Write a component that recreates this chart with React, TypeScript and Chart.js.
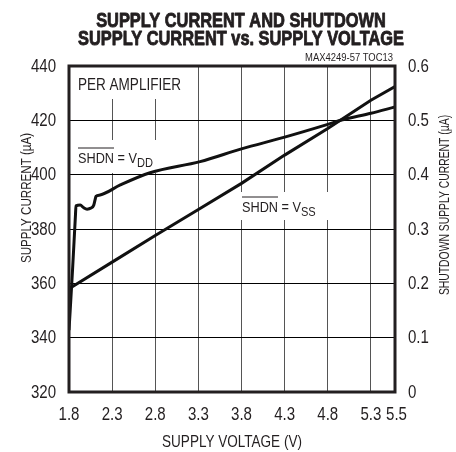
import React, { useEffect, useRef } from 'react';
import { Chart, registerables, LinearScale } from 'chart.js';

Chart.register(...registerables);

const FONT = "'Liberation Sans', Arial, sans-serif";
const NARROW = 0.82;
const INK = '#231f20';

const TITLE_LINES = ['SUPPLY CURRENT AND SHUTDOWN', 'SUPPLY CURRENT vs. SUPPLY VOLTAGE'];
const TOC_LABEL = 'MAX4249-57 TOC13';
const X_TITLE = 'SUPPLY VOLTAGE (V)';
const Y_TITLE = 'SUPPLY CURRENT (\u00b5A)';
const Y1_TITLE = 'SHUTDOWN SUPPLY CURRENT (\u00b5A)';

const X_TICKS = [1.8, 2.3, 2.8, 3.3, 3.8, 4.3, 4.8, 5.3, 5.5];
const X_TICK_LABELS = ['1.8', '2.3', '2.8', '3.3', '3.8', '4.3', '4.8', '5.3', '5.5'];
const Y_TICK_LABELS = ['320', '340', '360', '380', '400', '420', '440'];
const Y1_TICK_LABELS = ['0', '0.1', '0.2', '0.3', '0.4', '0.5', '0.6'];
const X_BREAK = 5.3;
const BREAK_FRACTION = 0.926;

// SHDN = VDD : supply current (left axis, uA)
const VDD_VOLTAGE = [1.8, 1.841, 1.875, 1.881, 1.931, 1.968, 2.009, 2.055, 2.087, 2.102, 2.113, 2.16, 2.395, 2.74, 3.32, 3.8, 4.3, 4.8, 4.96, 5.3, 5.5];
const VDD_CURRENT = [342.8, 364.9, 385.2, 388.5, 388.8, 387.9, 387.3, 387.7, 388.8, 390.7, 392.0, 392.5, 396.2, 400.7, 404.8, 409.5, 413.8, 418.5, 420.1, 422.6, 424.9];

// SHDN = VSS : shutdown supply current (right axis, uA)
const VSS_VOLTAGE = [1.8, 2.3, 2.8, 3.3, 3.8, 4.3, 4.8, 5.3, 5.5];
const VSS_CURRENT = [0.19, 0.239, 0.288, 0.336, 0.384, 0.436, 0.485, 0.537, 0.562];

class BrokenLinearScale extends LinearScale {
  static id = 'brokenLinear';
  static defaults = LinearScale.defaults;
  toDecimal(v: number) {
    const min = this.min as number;
    const max = this.max as number;
    if (v <= X_BREAK) return ((v - min) / (X_BREAK - min)) * BREAK_FRACTION;
    return BREAK_FRACTION + ((v - X_BREAK) / (max - X_BREAK)) * (1 - BREAK_FRACTION);
  }
  getPixelForValue(value: any) {
    if (value === null || value === undefined || isNaN(value)) return NaN;
    return this.getPixelForDecimal(this.toDecimal(Number(value)));
  }
  getValueForPixel(pixel: number) {
    const d = this.getDecimalForPixel(pixel);
    const min = this.min as number;
    const max = this.max as number;
    if (d <= BREAK_FRACTION) return min + (d / BREAK_FRACTION) * (X_BREAK - min);
    return X_BREAK + ((d - BREAK_FRACTION) / (1 - BREAK_FRACTION)) * (max - X_BREAK);
  }
}
Chart.register(BrokenLinearScale as any);

type TextOpts = {
  size: number;
  bold?: boolean;
  align?: CanvasTextAlign;
  baseline?: CanvasTextBaseline;
  rotate?: number;
  stroke?: number;
  sx?: number;
};

function drawText(ctx: CanvasRenderingContext2D, text: string, x: number, y: number, o: TextOpts) {
  const sx = o.sx || NARROW;
  ctx.save();
  ctx.translate(x, y);
  if (o.rotate) ctx.rotate(o.rotate);
  ctx.scale(sx, 1);
  ctx.font = `${o.bold ? 'bold ' : ''}${o.size}px ${FONT}`;
  ctx.textAlign = o.align || 'left';
  ctx.textBaseline = o.baseline || 'alphabetic';
  ctx.fillStyle = INK;
  ctx.fillText(text, 0, 0);
  if (o.stroke) {
    ctx.strokeStyle = INK;
    ctx.lineWidth = o.stroke;
    ctx.lineJoin = 'round';
    ctx.strokeText(text, 0, 0);
  }
  const w = ctx.measureText(text).width * sx;
  ctx.restore();
  return w;
}

function drawShdn(ctx: CanvasRenderingContext2D, x: number, y: number, sub: string) {
  const w = drawText(ctx, 'SHDN', x, y, { size: 15.5 });
  ctx.save();
  ctx.strokeStyle = INK;
  ctx.lineWidth = 1;
  ctx.beginPath();
  ctx.moveTo(x, y - 15);
  ctx.lineTo(x + w, y - 15);
  ctx.stroke();
  ctx.restore();
  const w2 = drawText(ctx, ' = V', x + w, y, { size: 15.5 });
  drawText(ctx, sub, x + w + w2, y + 3.5, { size: 13.5 });
}

const textPlugin = {
  id: 'textPlugin',
  beforeDatasetsDraw(chart: any) {
    const { ctx, chartArea } = chart;
    const L = chartArea.left;
    const T = chartArea.top;
    ctx.save();
    ctx.fillStyle = '#ffffff';
    ctx.fillRect(L + 1, T + 1, 126, 32);
    ctx.fillRect(L + 1, T + 74, 118, 33);
    ctx.fillRect(L + 167, T + 126, 100, 28);
    ctx.restore();
    drawText(ctx, 'PER AMPLIFIER', L + 9, T + 24, { size: 16.5 });
    drawShdn(ctx, L + 9, T + 97, 'DD');
    drawShdn(ctx, L + 173, T + 146, 'SS');
  },
  afterDatasetsDraw(chart: any) {
    const { ctx, chartArea } = chart;
    ctx.save();
    ctx.strokeStyle = INK;
    ctx.lineWidth = 3;
    ctx.strokeRect(chartArea.left, chartArea.top, chartArea.right - chartArea.left, chartArea.bottom - chartArea.top);
    ctx.restore();
  },
  afterDraw(chart: any) {
    const { ctx, chartArea, scales } = chart;
    // titles
    drawText(ctx, TITLE_LINES[0], 241, 27, { size: 21, bold: true, align: 'center', stroke: 0.9, sx: 0.78 });
    drawText(ctx, TITLE_LINES[1], 241, 45, { size: 21, bold: true, align: 'center', stroke: 0.9, sx: 0.78 });
    drawText(ctx, TOC_LABEL, 393, 61, { size: 11.5, align: 'right' });
    // tick labels placed through the library scales
    const tick = { size: 17.5, sx: 0.86 };
    const xs = scales.x;
    xs.ticks.forEach((t: any, i: number) => {
      const px = xs.getPixelForValue(t.value) + (i === X_TICKS.length - 1 ? 1.5 : 0);
      drawText(ctx, X_TICK_LABELS[i], px, 415, { ...tick, align: 'center', baseline: 'middle' });
    });
    const ys = scales.y;
    ys.ticks.forEach((t: any, i: number) => {
      drawText(ctx, Y_TICK_LABELS[i], chartArea.left - 13, ys.getPixelForValue(t.value) + 1, { ...tick, align: 'right', baseline: 'middle' });
    });
    const y1 = scales.y1;
    y1.ticks.forEach((t: any, i: number) => {
      drawText(ctx, Y1_TICK_LABELS[i], chartArea.right + 13, y1.getPixelForValue(t.value) + 1, { ...tick, align: 'left', baseline: 'middle' });
    });
    // axis titles
    drawText(ctx, X_TITLE, 232, 442, { size: 16.5, align: 'center', baseline: 'middle' });
    drawText(ctx, Y_TITLE, 27, 198, { size: 14.5, sx: 0.8, align: 'center', baseline: 'middle', rotate: -Math.PI / 2 });
    drawText(ctx, Y1_TITLE, 445, 205, { size: 14, sx: 0.74, align: 'center', baseline: 'middle', rotate: -Math.PI / 2 });
  },
};

export default function App() {
  const ref = useRef<HTMLCanvasElement>(null);
  useEffect(() => {
    document.body.style.margin = '0';
    const canvas = ref.current;
    if (!canvas) return;
    const chart = new Chart(canvas, {
      type: 'line',
      data: {
        datasets: [
          {
            label: 'SHDN = VDD',
            data: VDD_VOLTAGE.map((x, i) => ({ x, y: VDD_CURRENT[i] })),
            yAxisID: 'y',
            borderColor: '#111111',
            borderWidth: 3,
            pointRadius: 0,
            cubicInterpolationMode: 'monotone',
            fill: false,
          },
          {
            label: 'SHDN = VSS',
            data: VSS_VOLTAGE.map((x, i) => ({ x, y: VSS_CURRENT[i] })),
            yAxisID: 'y1',
            borderColor: '#111111',
            borderWidth: 3,
            pointRadius: 0,
            tension: 0,
            fill: false,
          },
        ],
      },
      options: {
        responsive: false,
        animation: false,
        layout: { padding: { top: 66, left: 0, right: 0, bottom: 0 } },
        plugins: { legend: { display: false }, tooltip: { enabled: false }, title: { display: false } },
        scales: {
          x: {
            type: 'brokenLinear' as any,
            min: 1.8,
            max: 5.5,
            afterBuildTicks: (s: any) => {
              s.ticks = X_TICKS.map((v) => ({ value: v }));
            },
            afterFit: (s: any) => {
              s.height = 60;
            },
            grid: { color: '#555555', lineWidth: 1, drawTicks: false },
            border: { display: false },
            ticks: { display: false, autoSkip: false, maxRotation: 0 },
          },
          y: {
            type: 'linear',
            position: 'left',
            min: 320,
            max: 440,
            afterFit: (s: any) => {
              s.width = 69;
            },
            grid: { color: '#000000', lineWidth: 1, drawTicks: false },
            border: { display: false },
            ticks: { display: false, stepSize: 20 },
          },
          y1: {
            type: 'linear',
            position: 'right',
            min: 0,
            max: 0.6,
            afterFit: (s: any) => {
              s.width = 61;
            },
            grid: { drawOnChartArea: false, drawTicks: false },
            border: { display: false },
            ticks: { display: false, stepSize: 0.1 },
          },
        },
      },
      plugins: [textPlugin],
    } as any);
    return () => chart.destroy();
  }, []);
  return (
    <div style={{ width: 456, height: 452 }}>
      <canvas ref={ref} width={456} height={452} style={{ width: 456, height: 452, display: 'block' }} />
    </div>
  );
}
